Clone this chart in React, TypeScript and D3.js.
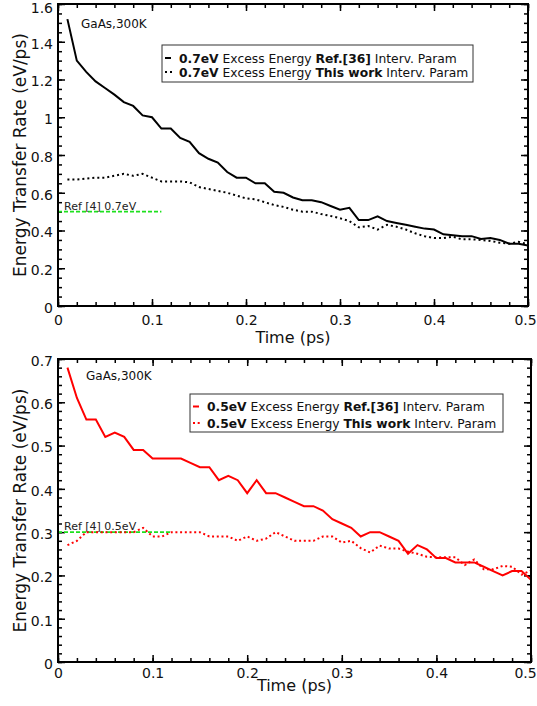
// Energy transfer rate vs time for GaAs at 300K, two stacked panels drawn with D3

import { useEffect, useRef } from 'react'
import * as d3 from 'd3'

const times = [
  0.01, 0.02, 0.03, 0.04, 0.05, 0.06, 0.07, 0.08, 0.09, 0.1,
  0.11, 0.12, 0.13, 0.14, 0.15, 0.16, 0.17, 0.18, 0.19, 0.2,
  0.21, 0.22, 0.23, 0.24, 0.25, 0.26, 0.27, 0.28, 0.29, 0.3,
  0.31, 0.32, 0.33, 0.34, 0.35, 0.36, 0.37, 0.38, 0.39, 0.4,
  0.41, 0.42, 0.43, 0.44, 0.45, 0.46, 0.47, 0.48, 0.49, 0.5,
]

// 0.7eV excess energy
const ref36_07 = [
  1.52, 1.3, 1.24, 1.19, 1.155, 1.12, 1.08, 1.06, 1.01, 1.0,
  0.94, 0.94, 0.89, 0.87, 0.81, 0.78, 0.76, 0.71, 0.68, 0.68,
  0.65, 0.65, 0.605, 0.6, 0.575, 0.56, 0.56, 0.55, 0.53, 0.51,
  0.52, 0.455, 0.455, 0.475, 0.45, 0.44, 0.43, 0.42, 0.41, 0.405,
  0.38, 0.375, 0.37, 0.37, 0.355, 0.36, 0.35, 0.33, 0.33, 0.32,
]
const thisWork_07 = [
  0.67, 0.67, 0.675, 0.68, 0.68, 0.69, 0.7, 0.69, 0.7, 0.68,
  0.66, 0.66, 0.66, 0.655, 0.63, 0.62, 0.61, 0.6, 0.585, 0.57,
  0.565, 0.55, 0.535, 0.525, 0.51, 0.5, 0.5, 0.487, 0.477, 0.465,
  0.45, 0.417, 0.424, 0.405, 0.43, 0.42, 0.405, 0.385, 0.37, 0.36,
  0.36, 0.367, 0.353, 0.353, 0.35, 0.345, 0.335, 0.33, 0.34, 0.327,
]

// 0.5eV excess energy
const ref36_05 = [
  0.68, 0.61, 0.56, 0.56, 0.52, 0.53, 0.52, 0.49, 0.49, 0.47,
  0.47, 0.47, 0.47, 0.46, 0.45, 0.45, 0.42, 0.43, 0.42, 0.39,
  0.42, 0.39, 0.39, 0.38, 0.37, 0.36, 0.36, 0.35, 0.33, 0.32,
  0.31, 0.29, 0.3, 0.3, 0.29, 0.28, 0.25, 0.27, 0.26, 0.24,
  0.24, 0.23, 0.23, 0.23, 0.22, 0.21, 0.2, 0.21, 0.21, 0.19,
]
const thisWork_05 = [
  0.27, 0.28, 0.3, 0.3, 0.3, 0.3, 0.3, 0.3, 0.31, 0.29,
  0.29, 0.3, 0.3, 0.3, 0.3, 0.29, 0.29, 0.29, 0.28, 0.29,
  0.28, 0.285, 0.3, 0.29, 0.28, 0.28, 0.28, 0.29, 0.29, 0.276,
  0.28, 0.263, 0.253, 0.269, 0.262, 0.262, 0.255, 0.25, 0.243, 0.242,
  0.242, 0.242, 0.224, 0.237, 0.214, 0.214, 0.222, 0.22, 0.202, 0.211,
]

const xTicks = [0, 0.1, 0.2, 0.3, 0.4, 0.5]
const yTicksTop = [0, 0.2, 0.4, 0.6, 0.8, 1, 1.2, 1.4, 1.6]
const yTicksBottom = [0, 0.1, 0.2, 0.3, 0.4, 0.5, 0.6, 0.7]

const FONT = '"DejaVu Sans", Verdana, sans-serif'

const panels = [
  {
    id: 'p07',
    ref: ref36_07,
    ours: thisWork_07,
    color: '#000',
    energy: '0.7eV',
    yMax: 1.6,
    yTicks: yTicksTop,
    yMinor: 0.05,
    refValue: 0.5,
    refEnd: 0.11,
    refLabel: 'Ref [4] 0.7eV',
    left: 58, right: 528, top: 4, bottom: 306,
    xPad: 9, titleY: 343,
    noteX: 81, noteY: 28,
    legend: { x: 162, y: 45, w: 311, h: 37, row1: 62.5, row2: 76.5 },
    dash: '2,3',
  },
  {
    id: 'p05',
    ref: ref36_05,
    ours: thisWork_05,
    color: '#ff0000',
    energy: '0.5eV',
    yMax: 0.7,
    yTicks: yTicksBottom,
    yMinor: 0.02,
    refValue: 0.3,
    refEnd: 0.12,
    refLabel: 'Ref [4] 0.5eV',
    left: 58, right: 531, top: 359, bottom: 662,
    xPad: 6, titleY: 691,
    noteX: 86, noteY: 380,
    legend: { x: 190, y: 394, w: 313, h: 38, row1: 411, row2: 427.5 },
    dash: '2,2.7',
  },
]

const drawPanel = (svg, p) => {
  const x = d3.scaleLinear().domain([0, 0.5]).range([p.left, p.right])
  const y = d3.scaleLinear().domain([0, p.yMax]).range([p.bottom, p.top])
  const g = svg.append('g')

  const xMinor = d3.range(0, 0.5 + 1e-9, 0.02)
  const yMinor = d3.range(0, p.yMax + 1e-9, p.yMinor)
  const fmt = d3.format('~g')

  // Clip the curves to the frame
  g.append('clipPath')
    .attr('id', `clip-${p.id}`)
    .append('rect')
    .attr('x', p.left)
    .attr('y', p.top)
    .attr('width', p.right - p.left)
    .attr('height', p.bottom - p.top)

  // Axes, ticks pointing inwards on all four sides
  const axes = [
    { side: 'left', t: `translate(${p.left},0)`, major: d3.axisLeft(y).tickValues(p.yTicks).tickPadding(5).tickFormat(fmt), minor: d3.axisLeft(y).tickValues(yMinor) },
    { side: 'right', t: `translate(${p.right},0)`, major: d3.axisRight(y).tickValues(p.yTicks).tickFormat(() => ''), minor: d3.axisRight(y).tickValues(yMinor) },
    { side: 'top', t: `translate(0,${p.top})`, major: d3.axisTop(x).tickValues(xTicks).tickFormat(() => ''), minor: d3.axisTop(x).tickValues(xMinor) },
    { side: 'bottom', t: `translate(0,${p.bottom})`, major: d3.axisBottom(x).tickValues(xTicks).tickPadding(p.xPad).tickFormat(fmt), minor: d3.axisBottom(x).tickValues(xMinor) },
  ]
  axes.forEach(a => {
    const minor = g.append('g').attr('transform', a.t).call(a.minor.tickSize(-4).tickFormat(() => ''))
    const major = g.append('g').attr('transform', a.t).call(a.major.tickSize(-7))
    ;[minor, major].forEach(s => {
      s.select('.domain').remove()
      s.selectAll('line').style('stroke', '#000').style('stroke-width', 1.5)
    })
    const labels = major
      .selectAll('text')
      .style('fill', '#111')
      .style('font-family', FONT)
      .style('font-size', '14px')
    if (a.side === 'left') {
      labels.attr('dy', '0.45em')
      // the top label sits at the picture's upper edge
      if (p.top < 10) labels.filter(d => d === p.yMax).attr('dy', '0.6em')
    }
    // keep the last x label inside the picture
    if (a.side === 'bottom') labels.filter(d => d === 0.5).attr('dx', 525 - p.right)
  })

  // Reference level
  g.append('line')
    .attr('x1', x(0))
    .attr('x2', x(p.refEnd))
    .attr('y1', y(p.refValue))
    .attr('y2', y(p.refValue))
    .style('stroke', '#1ee01e')
    .style('stroke-width', 1.6)
    .style('stroke-dasharray', '4,2')
  g.append('text')
    .attr('x', p.left + 6)
    .attr('y', y(p.refValue) - 2)
    .style('font-family', FONT)
    .style('font-size', '11px')
    .style('fill', '#222')
    .text(p.refLabel)

  // Curves
  const line = d3
    .line()
    .x((d, i) => x(times[i]))
    .y(d => y(d))
  const curves = g.append('g').attr('clip-path', `url(#clip-${p.id})`)
  curves
    .append('path')
    .datum(p.ref)
    .attr('d', line)
    .style('fill', 'none')
    .style('stroke', p.color)
    .style('stroke-width', 2)
  curves
    .append('path')
    .datum(p.ours)
    .attr('d', line)
    .style('fill', 'none')
    .style('stroke', p.color)
    .style('stroke-width', 2)
    .style('stroke-dasharray', p.dash)

  // Frame
  g.append('rect')
    .attr('x', p.left)
    .attr('y', p.top)
    .attr('width', p.right - p.left)
    .attr('height', p.bottom - p.top)
    .style('fill', 'none')
    .style('stroke', '#000')
    .style('stroke-width', 2)

  // Note
  g.append('text')
    .attr('x', p.noteX)
    .attr('y', p.noteY)
    .style('font-family', FONT)
    .style('font-size', '12px')
    .style('fill', '#111')
    .text('GaAs,300K')

  // Axis titles
  g.append('text')
    .attr('x', (p.left + p.right) / 2)
    .attr('y', p.titleY)
    .attr('text-anchor', 'middle')
    .style('font-family', FONT)
    .style('font-size', '16px')
    .style('fill', '#111')
    .text('Time (ps)')
  g.append('text')
    .attr('transform', `translate(26,${(p.top + p.bottom) / 2}) rotate(-90)`)
    .attr('text-anchor', 'middle')
    .style('font-family', FONT)
    .style('font-size', '17px')
    .style('fill', '#111')
    .text('Energy Transfer Rate (eV/ps)')

  // Legend
  const L = p.legend
  const lg = g.append('g')
  lg.append('rect')
    .attr('x', L.x)
    .attr('y', L.y)
    .attr('width', L.w)
    .attr('height', L.h)
    .style('fill', '#fff')
    .style('stroke', '#333')
    .style('stroke-width', 1)
  const rows = [
    { base: L.row1, tag: 'Ref.[36]', dash: null },
    { base: L.row2, tag: 'This work', dash: p.dash },
  ]
  rows.forEach(r => {
    lg.append('line')
      .attr('x1', L.x + 3)
      .attr('x2', L.x + (r.dash ? 10 : 9))
      .attr('y1', r.base - 4.5)
      .attr('y2', r.base - 4.5)
      .style('stroke', p.color)
      .style('stroke-width', 2)
      .style('stroke-dasharray', r.dash)
    const t = lg
      .append('text')
      .attr('x', L.x + 17)
      .attr('y', r.base)
      .style('font-family', FONT)
      .style('font-size', '12.3px')
      .style('fill', '#111')
    t.append('tspan').style('font-weight', 'bold').text(p.energy)
    t.append('tspan').text(' Excess Energy ')
    t.append('tspan').style('font-weight', 'bold').text(r.tag)
    t.append('tspan').text(' Interv. Param')
  })
}

const App = () => {
  const ref = useRef(null)

  useEffect(() => {
    const svg = d3.select(ref.current)
    svg.selectAll('*').remove()
    panels.forEach(p => drawPanel(svg, p))
  }, [])

  return (
    <div style={{ position: 'absolute', left: 0, top: 0 }}>
      <svg ref={ref} width={537} height={706} style={{ display: 'block', background: '#fff' }} />
    </div>
  )
}

export default App
